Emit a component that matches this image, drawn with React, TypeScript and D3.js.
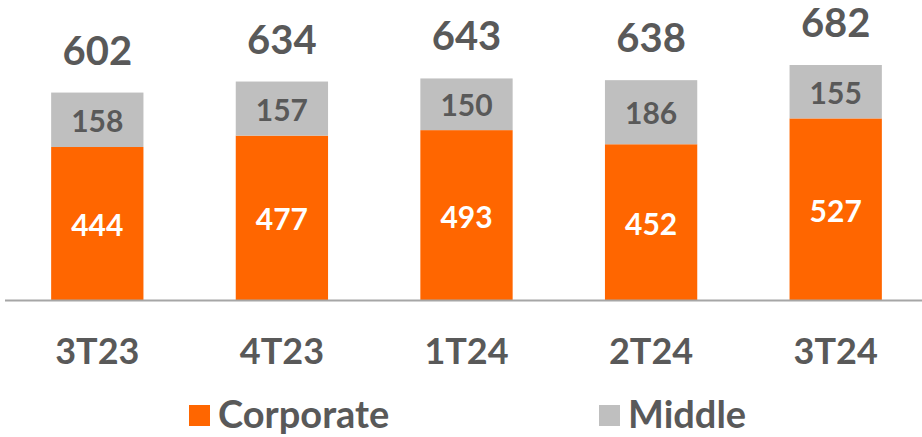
import React from "react";
import * as d3 from "d3";

const categories = ["3T23", "4T23", "1T24", "2T24", "3T24"];
const corporate = [444, 477, 493, 452, 527];
const middle = [158, 157, 150, 186, 155];
const totals = [602, 634, 643, 638, 682];
const seriesNames = ["Corporate", "Middle"];

const W = 922;
const H = 437;
const ORANGE = "#FF6600";
const GRAY = "#BFBFBF";
const TEXT = "#595959";
const FONT = "Lato, 'Open Sans', sans-serif";

export default function App() {
  const x = d3.scaleBand<string>().domain(categories).range([5, 928]).paddingInner(0.5).paddingOuter(0.25);
  const y = d3.scaleLinear().domain([0, 682]).range([300, 65]);
  const bw = x.bandwidth();

  return (
    <svg width={W} height={H} style={{ position: "absolute", left: 0, top: 0, background: "#fff" }} fontFamily={FONT}>
      {categories.map((c, i) => {
        const x0 = x(c)!;
        const cx = x0 + bw / 2;
        const yc = y(corporate[i]);
        const yt = y(corporate[i] + middle[i]);
        return (
          <g key={c}>
            <rect x={x0} y={yc} width={bw} height={y(0) - yc} fill={ORANGE} />
            <rect x={x0} y={yt} width={bw} height={yc - yt} fill={GRAY} />
            <text x={cx} y={(yc + y(0)) / 2} dy="0.42em" textAnchor="middle" fill="#fff" fontSize={30} fontWeight={700}>
              {corporate[i]}
            </text>
            <text x={cx} y={(yt + yc) / 2} dy="0.4em" textAnchor="middle" fill={TEXT} fontSize={30} fontWeight={700}>
              {middle[i]}
            </text>
            <text x={cx} y={y(totals[i]) - 28} textAnchor="middle" fill={TEXT} fontSize={40} fontWeight={700}>
              {totals[i]}
            </text>
            <text x={cx} y={364} textAnchor="middle" fill={TEXT} fontSize={36} fontWeight={700}>
              {c}
            </text>
          </g>
        );
      })}
      <line x1={5} x2={922} y1={y(0) + 0.5} y2={y(0) + 0.5} stroke="#A6A6A6" strokeWidth={2} />
      {seriesNames.map((s, i) => {
        const lx = i === 0 ? 189 : 599;
        return (
          <g key={s}>
            <rect x={lx} y={405} width={21} height={21} fill={i === 0 ? ORANGE : GRAY} />
            <text x={lx + 29} y={428} fill={TEXT} fontSize={38} fontWeight={700}>
              {s}
            </text>
          </g>
        );
      })}
    </svg>
  );
}
